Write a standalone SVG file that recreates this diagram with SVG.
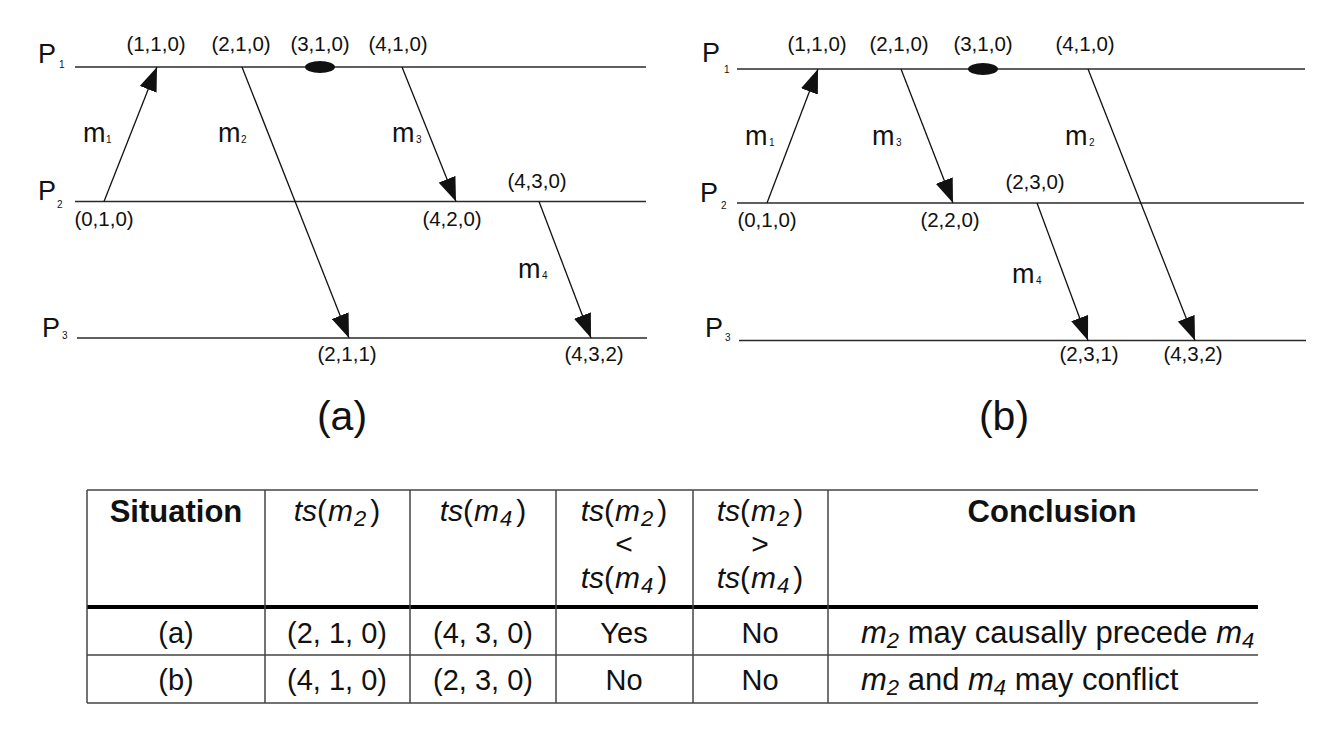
<svg xmlns="http://www.w3.org/2000/svg" width="1326" height="732" viewBox="0 0 1326 732">
<style>
text{font-family:"Liberation Sans",Arial,sans-serif;fill:#111}
.lbl{font-size:20.5px;text-anchor:middle}
.P{font-size:27px}
.ps{font-size:10px}
.m{font-size:27px}
.cap{font-size:41px;text-anchor:middle}
.proc{stroke:#2a2a2a;stroke-width:1.6;fill:none}
.msg{stroke:#111;stroke-width:1.3;fill:none;marker-end:url(#ah)}
.tl{stroke:#444;stroke-width:1.5;fill:none}
.tt{font-size:29px;text-anchor:middle}
.ts{font-size:30px;text-anchor:middle}
.tb{font-size:31px;font-weight:bold;text-anchor:middle}
.tc{font-size:31px}
.i{font-style:italic}
</style>
<defs>
<marker id="ah" viewBox="0 0 24 18" refX="24" refY="9" markerWidth="24" markerHeight="18" markerUnits="userSpaceOnUse" orient="auto">
<path d="M0,0 L24,9 L0,18 z" fill="#111"/>
</marker>
</defs>

<g id="diagram-a">
<g id="a-processes">
<line class="proc" x1="75" y1="67" x2="646" y2="67"/>
<line class="proc" x1="75" y1="201.5" x2="646" y2="201.5"/>
<line class="proc" x1="77" y1="338" x2="647" y2="338"/>
<text class="P" x="38" y="63">P</text><text class="ps" x="59" y="68">1</text>
<text class="P" x="38" y="200">P</text><text class="ps" x="57" y="208">2</text>
<text class="P" x="42" y="337">P</text><text class="ps" x="62" y="339">3</text>
</g>
<g id="a-event">
<ellipse cx="320" cy="67" rx="15" ry="6" fill="#111"/>
</g>
<g id="a-connectors">
<line class="msg" x1="104" y1="201.5" x2="157" y2="67"/>
<line class="msg" x1="242" y1="67" x2="349" y2="338"/>
<line class="msg" x1="402" y1="67" x2="456" y2="201.5"/>
<line class="msg" x1="539" y1="201.5" x2="591" y2="338"/>
</g>
<g id="a-labels">
<text class="lbl" x="156" y="51">(1,1,0)</text>
<text class="lbl" x="241" y="51">(2,1,0)</text>
<text class="lbl" x="320" y="51">(3,1,0)</text>
<text class="lbl" x="398" y="51">(4,1,0)</text>
<text class="lbl" x="104" y="226">(0,1,0)</text>
<text class="lbl" x="452" y="226">(4,2,0)</text>
<text class="lbl" x="537" y="188">(4,3,0)</text>
<text class="lbl" x="347" y="361">(2,1,1)</text>
<text class="lbl" x="594" y="361">(4,3,2)</text>
<text class="m" x="83" y="142">m</text><text class="ps" x="106" y="143">1</text>
<text class="m" x="218" y="142">m</text><text class="ps" x="241" y="143">2</text>
<text class="m" x="392" y="142">m</text><text class="ps" x="416" y="143">3</text>
<text class="m" x="518" y="278">m</text><text class="ps" x="542" y="279">4</text>
<text class="cap" x="342" y="430">(a)</text>
</g>
</g>

<g id="diagram-b">
<g id="b-processes">
<line class="proc" x1="737" y1="69" x2="1305" y2="69"/>
<line class="proc" x1="737" y1="203" x2="1304" y2="203"/>
<line class="proc" x1="739" y1="340.5" x2="1306" y2="340.5"/>
<text class="P" x="702" y="62">P</text><text class="ps" x="724" y="73">1</text>
<text class="P" x="700" y="202">P</text><text class="ps" x="721" y="209">2</text>
<text class="P" x="705" y="337">P</text><text class="ps" x="725" y="341">3</text>
</g>
<g id="b-event">
<ellipse cx="983" cy="69" rx="15" ry="6" fill="#111"/>
</g>
<g id="b-connectors">
<line class="msg" x1="767" y1="203" x2="818" y2="69"/>
<line class="msg" x1="901" y1="69" x2="953" y2="203"/>
<line class="msg" x1="1088" y1="69" x2="1195" y2="340.5"/>
<line class="msg" x1="1037" y1="203" x2="1088" y2="340.5"/>
</g>
<g id="b-labels">
<text class="lbl" x="817" y="51">(1,1,0)</text>
<text class="lbl" x="899" y="51">(2,1,0)</text>
<text class="lbl" x="983" y="51">(3,1,0)</text>
<text class="lbl" x="1085" y="51">(4,1,0)</text>
<text class="lbl" x="767" y="227">(0,1,0)</text>
<text class="lbl" x="950" y="227">(2,2,0)</text>
<text class="lbl" x="1035" y="189">(2,3,0)</text>
<text class="lbl" x="1089" y="361">(2,3,1)</text>
<text class="lbl" x="1193" y="361">(4,3,2)</text>
<text class="m" x="745" y="145">m</text><text class="ps" x="769" y="146">1</text>
<text class="m" x="872" y="145">m</text><text class="ps" x="896" y="146">3</text>
<text class="m" x="1065" y="145">m</text><text class="ps" x="1089" y="146">2</text>
<text class="m" x="1012" y="283">m</text><text class="ps" x="1036" y="284">4</text>
<text class="cap" x="1004" y="430">(b)</text>
</g>
</g>

<g id="table">
<g id="table-lines">
<line class="tl" x1="87" y1="490" x2="1258" y2="490"/>
<line x1="87" y1="607" x2="1258" y2="607" stroke="#000" stroke-width="4"/>
<line class="tl" x1="87" y1="655" x2="1258" y2="655"/>
<line class="tl" x1="87" y1="703" x2="1258" y2="703"/>
<line class="tl" x1="87" y1="490" x2="87" y2="703"/>
<line class="tl" x1="265" y1="490" x2="265" y2="703"/>
<line class="tl" x1="410" y1="490" x2="410" y2="703"/>
<line class="tl" x1="556" y1="490" x2="556" y2="703"/>
<line class="tl" x1="693" y1="490" x2="693" y2="703"/>
<line class="tl" x1="828" y1="490" x2="828" y2="703"/>
</g>
<g id="table-header">
<text class="tb" x="176" y="522">Situation</text>
<text class="ts" x="337" y="521"><tspan class="i">ts</tspan>(<tspan class="i" dx="1">m</tspan><tspan class="i" font-size="22" dy="5" dx="1">2</tspan><tspan dy="-5" dx="4">)</tspan></text>
<text class="ts" x="483" y="521"><tspan class="i">ts</tspan>(<tspan class="i" dx="1">m</tspan><tspan class="i" font-size="22" dy="5" dx="1">4</tspan><tspan dy="-5" dx="4">)</tspan></text>
<text class="ts" x="624" y="521"><tspan class="i">ts</tspan>(<tspan class="i" dx="1">m</tspan><tspan class="i" font-size="22" dy="5" dx="1">2</tspan><tspan dy="-5" dx="4">)</tspan></text>
<text class="ts" x="624" y="554">&lt;</text>
<text class="ts" x="624" y="588"><tspan class="i">ts</tspan>(<tspan class="i" dx="1">m</tspan><tspan class="i" font-size="22" dy="5" dx="1">4</tspan><tspan dy="-5" dx="4">)</tspan></text>
<text class="ts" x="760" y="521"><tspan class="i">ts</tspan>(<tspan class="i" dx="1">m</tspan><tspan class="i" font-size="22" dy="5" dx="1">2</tspan><tspan dy="-5" dx="4">)</tspan></text>
<text class="ts" x="760" y="554">&gt;</text>
<text class="ts" x="760" y="588"><tspan class="i">ts</tspan>(<tspan class="i" dx="1">m</tspan><tspan class="i" font-size="22" dy="5" dx="1">4</tspan><tspan dy="-5" dx="4">)</tspan></text>
<text class="tb" x="1052" y="522">Conclusion</text>
</g>
<g id="row-a">
<text class="tt" x="176" y="643">(a)</text>
<text class="tt" x="337" y="643">(2, 1, 0)</text>
<text class="tt" x="483" y="643">(4, 3, 0)</text>
<text class="tt" x="624" y="643">Yes</text>
<text class="tt" x="760" y="643">No</text>
<text class="tc" x="861" y="643"><tspan class="i">m</tspan><tspan class="i" font-size="22" dy="5">2</tspan><tspan dy="-5"> may causally precede </tspan><tspan class="i">m</tspan><tspan class="i" font-size="22" dy="5">4</tspan></text>
</g>
<g id="row-b">
<text class="tt" x="176" y="690">(b)</text>
<text class="tt" x="337" y="690">(4, 1, 0)</text>
<text class="tt" x="483" y="690">(2, 3, 0)</text>
<text class="tt" x="624" y="690">No</text>
<text class="tt" x="760" y="690">No</text>
<text class="tc" x="861" y="690"><tspan class="i">m</tspan><tspan class="i" font-size="22" dy="5">2</tspan><tspan dy="-5"> and </tspan><tspan class="i">m</tspan><tspan class="i" font-size="22" dy="5">4</tspan><tspan dy="-5"> may conflict</tspan></text>
</g>
</g>
</svg>
